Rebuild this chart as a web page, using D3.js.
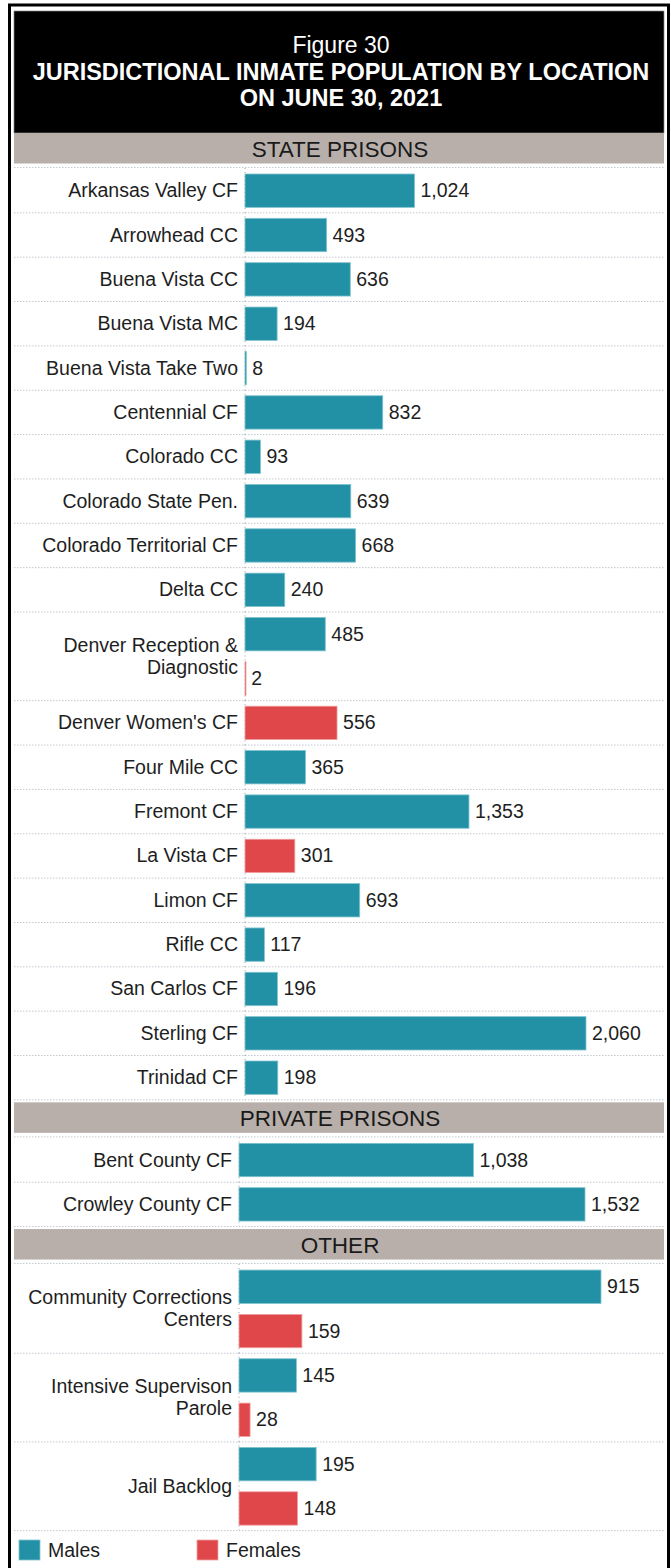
<!DOCTYPE html>
<html>
<head>
<meta charset="utf-8">
<script src="https://cdn.jsdelivr.net/npm/d3@7"></script>
<style>
  body { margin: 0; background: #fff; }
  svg { display: block; font-family: "Liberation Sans", Arial, sans-serif; }
</style>
</head>
<body>
<svg id="chart" width="671" height="1568"></svg>
<script>
// data
var titleLines = ["Figure 30", "JURISDICTIONAL INMATE POPULATION BY LOCATION", "ON JUNE 30, 2021"];

var stateNames = ["Arkansas Valley CF", "Arrowhead CC", "Buena Vista CC", "Buena Vista MC", "Buena Vista Take Two",
    "Centennial CF", "Colorado CC", "Colorado State Pen.", "Colorado Territorial CF", "Delta CC",
    "Denver Reception &\nDiagnostic", "Denver Women's CF", "Four Mile CC", "Fremont CF", "La Vista CF",
    "Limon CF", "Rifle CC", "San Carlos CF", "Sterling CF", "Trinidad CF"];
var stateMales   = [1024, 493, 636, 194, 8, 832, 93, 639, 668, 240, 485, null, 365, 1353, null, 693, 117, 196, 2060, 198];
var stateFemales = [null, null, null, null, null, null, null, null, null, null, 2, 556, null, null, 301, null, null, null, null, null];

var privateNames   = ["Bent County CF", "Crowley County CF"];
var privateMales   = [1038, 1532];
var privateFemales = [null, null];

var otherNames   = ["Community Corrections\nCenters", "Intensive Supervison\nParole", "Jail Backlog"];
var otherMales   = [915, 145, 195];
var otherFemales = [159, 28, 148];

var legendKeys = ["Males", "Females"];

var colors = {Males: "#2291a5", Females: "#e0474b"};
var strokes = {Males: "#7fc2cf", Females: "#f0a0a2"};

var svg = d3.select("#chart");
var fmt = d3.format(",");

// outer frame
svg.append("rect")
    .attr("x", 9.5).attr("y", 5)
    .attr("width", 659).attr("height", 1575)
    .attr("fill", "none").attr("stroke", "#000").attr("stroke-width", 3);

// title block
svg.append("rect")
    .attr("x", 14).attr("y", 11)
    .attr("width", 650).attr("height", 122)
    .attr("fill", "#000").attr("stroke", "#888").attr("stroke-width", 0.7);

svg.append("g").selectAll("text")
    .data(titleLines)
    .enter().append("text")
    .attr("x", 341)
    .attr("y", function(d, i) { return 53 + i * 26.5; })
    .attr("text-anchor", "middle")
    .attr("fill", "#fff")
    .style("font-size", function(d, i) { return i == 0 ? "23px" : "23.5px"; })
    .style("font-weight", function(d, i) { return i == 0 ? "normal" : "bold"; })
    .text(function(d) { return d; });

var sections = [
    {title: "STATE PRISONS", names: stateNames, males: stateMales, females: stateFemales, axisX: 245, maxW: 341},
    {title: "PRIVATE PRISONS", names: privateNames, males: privateMales, females: privateFemales, axisX: 239, maxW: 346},
    {title: "OTHER", names: otherNames, males: otherMales, females: otherFemales, axisX: 239, maxW: 362}
];

var rowH = 44.35;
var y0 = 133;

sections.forEach(function(sec) {
    // grey section band
    svg.append("rect")
        .attr("x", 14).attr("y", y0)
        .attr("width", 650).attr("height", 30.5)
        .attr("fill", "#b8afaa");
    svg.append("text")
        .attr("x", 340).attr("y", y0 + 23.5)
        .attr("text-anchor", "middle")
        .attr("fill", "#1a1a1a")
        .style("font-size", "22.5px")
        .text(sec.title);

    // one entry per facility, each sub-row is one series
    var rows = sec.names.map(function(n, i) {
        var subs = [];
        if (sec.males[i] != null) subs.push({key: "Males", v: sec.males[i]});
        if (sec.females[i] != null) subs.push({key: "Females", v: sec.females[i]});
        return {name: n, subs: subs};
    });
    var units = d3.sum(rows, function(r) { return r.subs.length; });
    var top = y0 + 35;

    var max = d3.max(sec.males.concat(sec.females));
    var x = d3.scaleLinear().domain([0, max]).range([sec.axisX, sec.axisX + sec.maxW]);
    var y = d3.scaleLinear().domain([0, units]).range([top, top + units * rowH]);

    var g = svg.append("g");

    // top dotted line
    g.append("line")
        .attr("x1", 14).attr("x2", 664)
        .attr("y1", top - 0.5).attr("y2", top - 0.5)
        .attr("stroke", "#c3c8d0").attr("stroke-dasharray", "1.5,1.5");

    var u = 0;
    rows.forEach(function(r) {
        var start = u;
        var end = u + r.subs.length;
        var mid = (y(start) + y(end)) / 2;

        // separator
        g.append("line")
            .attr("x1", 14).attr("x2", 664)
            .attr("y1", y(end) + 0.5).attr("y2", y(end) + 0.5)
            .attr("stroke", "#c3c8d0").attr("stroke-dasharray", "1.5,1.5");

        // axis tick dots
        g.append("line")
            .attr("x1", sec.axisX).attr("x2", sec.axisX)
            .attr("y1", y(start)).attr("y2", y(end))
            .attr("stroke", "#9aa0a8").attr("stroke-dasharray", "1,3");

        // label
        var lines = r.name.split("\n");
        var t = g.append("text")
            .attr("x", sec.axisX - 7)
            .attr("text-anchor", "end")
            .attr("fill", "#1e1e1e")
            .style("font-size", "19.5px");
        lines.forEach(function(l, i) {
            t.append("tspan")
                .attr("x", sec.axisX - 7)
                .attr("y", mid + 7 + (i - (lines.length - 1) / 2) * 22)
                .text(l);
        });

        r.subs.forEach(function(s, j) {
            var yt = y(start + j);
            g.append("rect")
                .attr("x", x(0))
                .attr("y", yt + 6)
                .attr("width", Math.max(1, x(s.v) - x(0)))
                .attr("height", rowH - 11)
                .attr("fill", colors[s.key])
                .attr("stroke", strokes[s.key])
                .attr("stroke-width", 0.8);
            g.append("text")
                .attr("x", x(s.v) + 6)
                .attr("y", yt + rowH / 2 + 7)
                .attr("fill", "#1e1e1e")
                .style("font-size", "19.5px")
                .text(fmt(s.v));
        });
        u = end;
    });

    y0 = y(units) + 3;
});

// legend
var leg = svg.append("g").selectAll("g")
    .data(legendKeys)
    .enter().append("g")
    .attr("transform", function(d, i) { return "translate(" + (19 + i * 178) + ",1540)"; });
leg.append("rect")
    .attr("width", 21).attr("height", 20)
    .attr("fill", function(d) { return colors[d]; })
    .attr("stroke", function(d) { return strokes[d]; })
    .attr("stroke-width", 0.8);
leg.append("text")
    .attr("x", 29).attr("y", 17)
    .attr("fill", "#1e1e1e")
    .style("font-size", "19.5px")
    .text(function(d) { return d; });
</script>
</body>
</html>
